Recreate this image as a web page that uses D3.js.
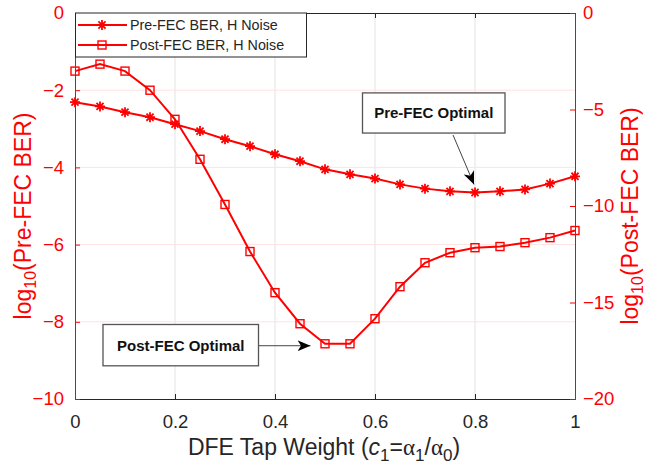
<!DOCTYPE html>
<html><head><meta charset="utf-8">
<script src="https://cdn.jsdelivr.net/npm/d3@7"></script>
<style>
body{margin:0;background:#fff;}
text{font-family:"Liberation Sans",Arial,sans-serif;}
</style></head>
<body><svg id="c" width="648" height="473"></svg>
<script>
const xVals = [0,0.05,0.1,0.15,0.2,0.25,0.3,0.35,0.4,0.45,0.5,0.55,0.6,0.65,0.7,0.75,0.8,0.85,0.9,0.95,1.0];
const preFEC = [-2.31,-2.42,-2.57,-2.70,-2.88,-3.06,-3.27,-3.45,-3.66,-3.84,-4.05,-4.18,-4.29,-4.44,-4.55,-4.62,-4.65,-4.62,-4.57,-4.42,-4.23];
const postFEC = [-3.01,-2.65,-3.01,-4.0,-5.51,-7.58,-9.92,-12.36,-14.49,-16.1,-17.14,-17.14,-15.84,-14.18,-12.94,-12.42,-12.16,-12.10,-11.90,-11.64,-11.27];
const xTicks = [0,0.2,0.4,0.6,0.8,1];
const yLeftTicks = [0,-2,-4,-6,-8,-10];
const yRightTicks = [0,-5,-10,-15,-20];
const seriesNames = ["Pre-FEC BER, H Noise","Post-FEC BER, H Noise"];

const svg = d3.select("#c");
const L=75,R=575,T=13,B=399;
const red="#ff0000", axisGray="#262626";
const x = d3.scaleLinear().domain([0,1]).range([L,R]);
const yL = d3.scaleLinear().domain([-10,0]).range([B,T]);
const yR = d3.scaleLinear().domain([-20,0]).range([B,T]);

// grid
svg.append("g").selectAll("line").data(xTicks.slice(1,-1)).join("line")
  .attr("x1",d=>x(d)).attr("x2",d=>x(d)).attr("y1",T).attr("y2",B)
  .attr("stroke","#e3e3e3").attr("stroke-width",1);
svg.append("g").selectAll("line").data(yLeftTicks.slice(1,-1)).join("line")
  .attr("x1",L).attr("x2",R).attr("y1",d=>yL(d)).attr("y2",d=>yL(d))
  .attr("stroke","#ffe2e2").attr("stroke-width",1);

// axes
const xAx = svg.append("g").attr("transform",`translate(0,${B})`)
  .call(d3.axisBottom(x).tickValues(xTicks).tickSize(-5).tickPadding(16).tickFormat(d3.format("")));
const xTop = svg.append("g").attr("transform",`translate(0,${T})`)
  .call(d3.axisTop(x).tickValues(xTicks).tickSize(-5).tickFormat(""));
[xAx,xTop].forEach(a=>{
  a.select(".domain").attr("stroke",axisGray);
  a.selectAll(".tick line").attr("stroke",axisGray);
});
xAx.selectAll("text").attr("fill",axisGray).style("font-size","18.5px");

const lAx = svg.append("g").attr("transform",`translate(${L},0)`)
  .call(d3.axisLeft(yL).tickValues(yLeftTicks).tickSize(-5).tickPadding(11));
lAx.select(".domain").attr("stroke",red);
lAx.selectAll(".tick line").attr("stroke",red);
lAx.selectAll("text").attr("fill",red).style("font-size","18.5px");

const rAx = svg.append("g").attr("transform",`translate(${R},0)`)
  .call(d3.axisRight(yR).tickValues(yRightTicks).tickSize(-5).tickPadding(8));
rAx.select(".domain").attr("stroke",red);
rAx.selectAll(".tick line").attr("stroke",red);
rAx.selectAll("text").attr("fill",red).style("font-size","18.5px");
svg.selectAll(".domain").attr("stroke-width",1);

// axis labels
const xl = svg.append("text").attr("x",324).attr("y",455).attr("text-anchor","middle")
  .attr("fill",axisGray).style("font-size","23px");
xl.append("tspan").text("DFE Tap Weight (");
xl.append("tspan").text("c").style("font-style","italic");
xl.append("tspan").text("1").attr("dy",6).style("font-size","17px");
xl.append("tspan").text("=").attr("dy",-6);
xl.append("tspan").text("α").style("font-family","Liberation Serif,serif");
xl.append("tspan").text("1").attr("dy",6).style("font-size","17px");
xl.append("tspan").text("/").attr("dy",-6);
xl.append("tspan").text("α").style("font-family","Liberation Serif,serif");
xl.append("tspan").text("0").attr("dy",6).style("font-size","17px");
xl.append("tspan").text(")").attr("dy",-6);

function yLabel(cx, main) {
  const t = svg.append("text").attr("transform",`translate(${cx},${(T+B)/2+10}) rotate(-90)`)
    .attr("text-anchor","middle").attr("fill",red).style("font-size","23px");
  t.append("tspan").text("log");
  t.append("tspan").text("10").attr("dy",5).style("font-size","16px");
  t.append("tspan").text(main).attr("dy",-5);
}
yLabel(31,"(Pre-FEC BER)");
yLabel(638,"(Post-FEC BER)");

// lines
const preData = xVals.map((d,i)=>[d,preFEC[i]]);
const postData = xVals.map((d,i)=>[d,postFEC[i]]);
svg.append("path").datum(preData).attr("fill","none").attr("stroke",red).attr("stroke-width",2)
  .attr("d",d3.line().x(d=>x(d[0])).y(d=>yL(d[1])));
svg.append("path").datum(postData).attr("fill","none").attr("stroke",red).attr("stroke-width",2)
  .attr("d",d3.line().x(d=>x(d[0])).y(d=>yR(d[1])));

function star(g,cx,cy,s){
  const p=[];
  for(let k=0;k<4;k++){const a=k*Math.PI/4;p.push(`M${cx-s*Math.cos(a)},${cy-s*Math.sin(a)}L${cx+s*Math.cos(a)},${cy+s*Math.sin(a)}`);}
  g.append("path").attr("d",p.join("")).attr("stroke",red).attr("stroke-width",1.8).attr("fill","none");
}
function square(g,cx,cy,s){
  g.append("rect").attr("x",cx-s).attr("y",cy-s).attr("width",2*s).attr("height",2*s)
   .attr("fill","none").attr("stroke",red).attr("stroke-width",1.4);
}
const mk = svg.append("g");
preData.forEach(d=>star(mk,x(d[0]),yL(d[1]),5));
postData.forEach(d=>square(mk,x(d[0]),yR(d[1]),4));

// legend
const lg = svg.append("g");
lg.append("rect").attr("x",L+0.5).attr("y",T).attr("width",231).attr("height",44)
  .attr("fill","#fff").attr("stroke",axisGray).attr("stroke-width",1);
[0,1].forEach(i=>{
  const yy = T+12+i*20;
  lg.append("line").attr("x1",L+3).attr("x2",L+52).attr("y1",yy).attr("y2",yy).attr("stroke",red).attr("stroke-width",2);
  if(i===0) star(lg,L+27,yy,5); else square(lg,L+27,yy,4);
  lg.append("text").attr("x",L+55).attr("y",yy+5).text(seriesNames[i]).attr("fill",axisGray).style("font-size","14.3px");
});

// annotations (data coordinates)
const annotations = [
  {text:"Pre-FEC Optimal", bx0:0.575, bx1:0.860, by0:-2.07, by1:-3.11, ax0:0.756, ay0:-3.16, ax1:0.798, ay1:-4.44},
  {text:"Post-FEC Optimal", bx0:0.056, bx1:0.367, by0:-8.07, by1:-9.14, ax0:0.367, ay0:-8.62, ax1:0.471, ay1:-8.62}
];
const defs = svg.append("defs");
defs.append("marker").attr("id","ah").attr("viewBox","0 0 13 11").attr("refX",13).attr("refY",5.5)
  .attr("markerWidth",13).attr("markerHeight",11).attr("markerUnits","userSpaceOnUse").attr("orient","auto")
  .append("path").attr("d","M0,0L13,5.5L0,11L3.5,5.5Z").attr("fill","#000");
annotations.forEach(a=>{
  const g = svg.append("g");
  g.append("line").attr("x1",x(a.ax0)).attr("y1",yL(a.ay0)).attr("x2",x(a.ax1)).attr("y2",yL(a.ay1))
    .attr("stroke","#444").attr("stroke-width",1).attr("marker-end","url(#ah)");
  g.append("rect").attr("x",x(a.bx0)).attr("y",yL(a.by0)).attr("width",x(a.bx1)-x(a.bx0)).attr("height",yL(a.by1)-yL(a.by0))
    .attr("fill","#fff").attr("stroke","#555").attr("stroke-width",1.3);
  g.append("text").attr("x",(x(a.bx0)+x(a.bx1))/2).attr("y",(yL(a.by0)+yL(a.by1))/2+5.5).attr("text-anchor","middle")
    .style("font-size","15px").style("font-weight","bold").attr("fill","#111").text(a.text);
});
</script></body></html>
